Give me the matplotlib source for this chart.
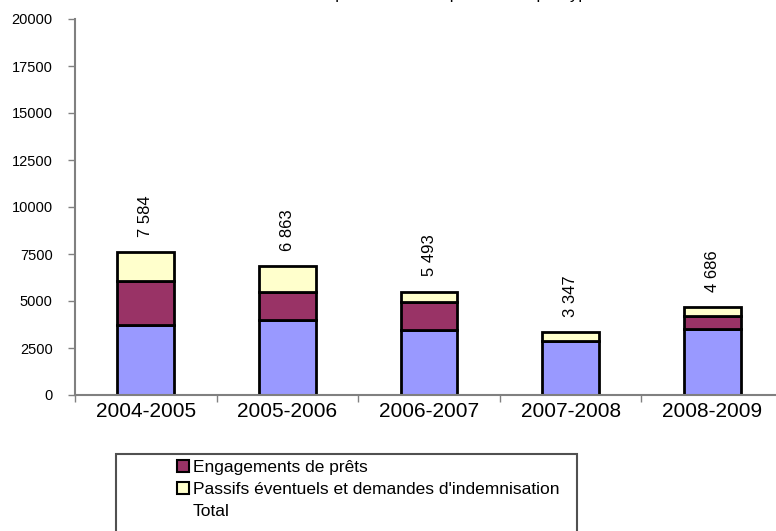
import matplotlib.pyplot as plt
from matplotlib.patches import Patch, Rectangle
from matplotlib.lines import Line2D

plt.rcParams['font.family'] = ['Liberation Sans', 'DejaVu Sans']

# données
annees = ['2004-2005', '2005-2006', '2006-2007', '2007-2008', '2008-2009']
garanties = [3750, 3970, 3450, 2870, 3490]
engagements = [2330, 1520, 1480, 0, 720]
passifs = [1504, 1373, 563, 477, 476]
totaux = [7584, 6863, 5493, 3347, 4686]

c_bleu = '#9999FF'
c_bordeaux = '#993366'
c_jaune = '#FFFFCC'

W, H = 776, 531
fig = plt.figure(figsize=(W / 100, H / 100), dpi=100)
ax = fig.add_axes([75 / W, (H - 395) / H, (783 - 75) / W, 376 / H])

x = list(range(len(annees)))
larg = 0.40
bas2 = [a + b for a, b in zip(garanties, engagements)]
ax.bar(x, garanties, width=larg, color=c_bleu, edgecolor='black', linewidth=2)
ax.bar(x, engagements, width=larg, bottom=garanties, color=c_bordeaux, edgecolor='black', linewidth=2)
ax.bar(x, passifs, width=larg, bottom=bas2, color=c_jaune, edgecolor='black', linewidth=2)

# étiquettes du total
for xi, t in zip(x, totaux):
    ax.annotate(f'{t:,}'.replace(',', ' '), (xi, t), xytext=(0, 11), textcoords='offset points',
                rotation=90, ha='center', va='bottom', fontsize=12)

ax.set_xlim(-0.5, 4.5)
ax.set_ylim(0, 20000)
ax.set_yticks(range(0, 20001, 2500))
ax.set_xticks(x)
ax.set_xticklabels(annees, fontsize=15)
ax.set_xticks([i - 0.5 for i in range(len(annees) + 1)], minor=True)
ax.tick_params(axis='x', which='major', length=0, pad=5)
ax.tick_params(axis='x', which='minor', length=5, color='#808080', width=1)
ax.tick_params(axis='y', length=5, color='#808080', width=1, pad=11, labelsize=10.5)

for s in ['top', 'right']:
    ax.spines[s].set_visible(False)
for s in ['left', 'bottom']:
    ax.spines[s].set_color('#808080')
    ax.spines[s].set_linewidth(1.5)

# titre (coupé en haut)
fig.text(455 / W, 1 + 1 / H, 'Répartition historique du total par type', ha='center',
         va='baseline', fontsize=12)

# légende
fig.patches.append(Rectangle((116 / W, -0.05), (577 - 116) / W, 0.05 + (H - 454) / H,
                             transform=fig.transFigure, facecolor='white',
                             edgecolor='#505050', linewidth=1.5))
poignees = [Patch(facecolor=c_bordeaux, edgecolor='black', linewidth=1.5),
            Patch(facecolor=c_jaune, edgecolor='black', linewidth=1.5),
            Line2D([], [], linestyle='none')]
noms = ['Engagements de prêts', "Passifs éventuels et demandes d'indemnisation", 'Total']
fig.legend(poignees, noms, loc='upper left', bbox_to_anchor=(177 / W, 1 - 460 / H),
           frameon=False, fontsize=12.5, borderpad=0, borderaxespad=0,
           handlelength=0.7, handleheight=0.7, handletextpad=0.2, labelspacing=0.38)

fig.savefig('out.png', dpi=100)
